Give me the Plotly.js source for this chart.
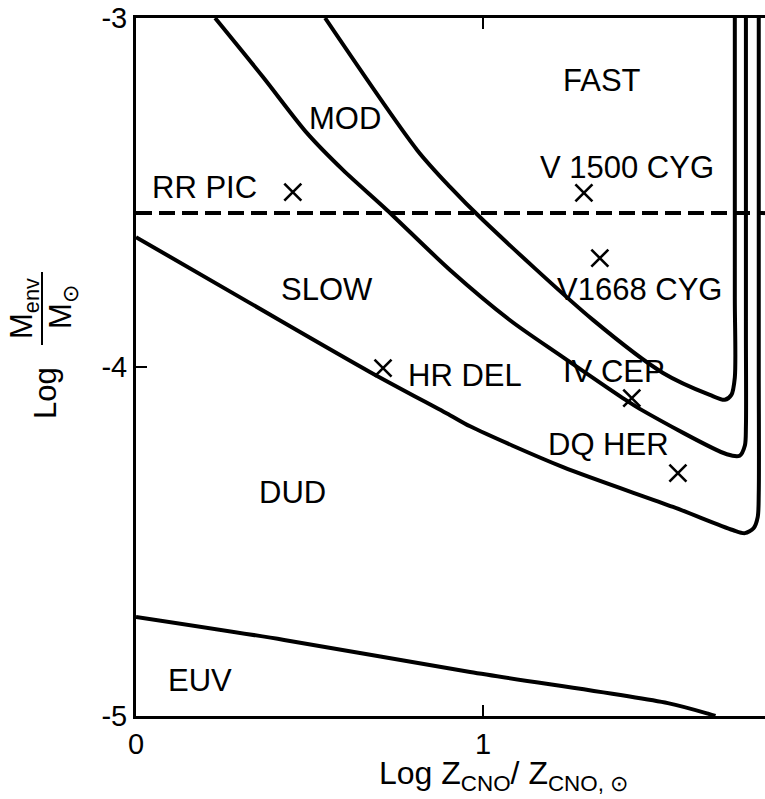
<!DOCTYPE html>
<html>
<head>
<meta charset="utf-8">
<script src="https://cdn.plot.ly/plotly-3.0.1.min.js"></script>
<style>html,body{margin:0;padding:0;background:#fff;}#chart{width:765px;height:799px;}</style>
</head>
<body>
<div id="chart"></div>
<script>
// Boundary FAST / MOD
const fastX = [0.545, 0.81, 0.905, 1.0, 1.317, 1.519, 1.654, 1.697, 1.716, 1.726, 1.726, 1.726];
const fastY = [-3.0, -3.378, -3.484, -3.579, -3.865, -4.017, -4.080, -4.094, -4.080, -4.03, -3.8, -3.0];
// Boundary MOD / SLOW
const modX = [0.228, 0.366, 0.493, 0.597, 0.723, 0.905, 1.078, 1.222, 1.403, 1.452, 1.703, 1.740, 1.755, 1.758, 1.758, 1.758];
const modY = [-3.0, -3.169, -3.330, -3.436, -3.550, -3.722, -3.866, -3.966, -4.089, -4.120, -4.250, -4.254, -4.225, -4.17, -3.9, -3.0];
// Boundary SLOW / DUD
const slowX = [0.0, 0.329, 0.674, 0.905, 0.963, 1.231, 1.548, 1.720, 1.755, 1.780, 1.792, 1.795, 1.795, 1.795];
const slowY = [-3.628, -3.817, -4.014, -4.138, -4.170, -4.287, -4.401, -4.467, -4.476, -4.462, -4.43, -4.36, -4.0, -3.0];
// Boundary DUD / EUV
const euvX = [0.0, 0.427, 0.963, 1.533, 1.651, 1.67];
const euvY = [-4.716, -4.782, -4.874, -4.963, -4.994, -5.0];
// Dashed divider
const dashX = [0.0, 1.813];
const dashY = [-3.559, -3.559];
// Observed novae (x marks)
const novaX = [0.452, 1.291, 1.337, 0.712, 1.429, 1.562];
const novaY = [-3.499, -3.501, -3.688, -4.003, -4.089, -4.304];
// Labels
const labelText = ["FAST", "MOD", "RR PIC", "V 1500 CYG", "V1668 CYG", "SLOW", "HR DEL", "IV CEP", "DQ HER", "DUD", "EUV"];
const labelX = [1.343, 0.602, 0.196, 1.415, 1.452, 0.550, 0.948, 1.378, 1.363, 0.450, 0.184];
const labelY = [-3.178, -3.287, -3.487, -3.427, -3.779, -3.779, -4.023, -4.014, -4.223, -4.361, -4.897];
// Ticks
const xTicks = [0, 1];
const xTickText = ["0", "1"];
const yTicks = [-5, -4, -3];
const yTickText = ["-5", "-4", "-3"];

const FONT = "Liberation Sans, Arial, sans-serif";
const curveLine = {color: "#000", width: 4, shape: "spline", smoothing: 0.8};

const traces = [
  {x: fastX, y: fastY, mode: "lines", line: curveLine, hoverinfo: "skip"},
  {x: modX, y: modY, mode: "lines", line: curveLine, hoverinfo: "skip"},
  {x: slowX, y: slowY, mode: "lines", line: curveLine, hoverinfo: "skip"},
  {x: euvX, y: euvY, mode: "lines", line: curveLine, hoverinfo: "skip"},
  {x: dashX, y: dashY, mode: "lines", line: {color: "#000", width: 4, dash: "16px,7px"}, hoverinfo: "skip"},
  {x: novaX, y: novaY, mode: "markers", marker: {symbol: "x-thin", size: 17, line: {color: "#000", width: 2.6}}, hoverinfo: "skip"}
];

const W = 629, H = 698, L = 136, B = 716;
function px(p) { return (p - L) / W; }
function py(p) { return (B - p) / H; }

const annotations = labelText.map((t, i) => ({
  x: labelX[i], y: labelY[i], xref: "x", yref: "y", text: t, showarrow: false,
  font: {family: FONT, size: 31, color: "#000"}, xanchor: "center", yanchor: "middle"
}));

// x axis title
annotations.push({
  x: px(503), y: py(775), xref: "paper", yref: "paper", showarrow: false,
  text: "Log Z<sub>CNO</sub>/ Z<sub>CNO, ⊙</sub>", font: {family: FONT, size: 32, color: "#000"},
  xanchor: "center", yanchor: "middle"
});
// y axis title pieces
annotations.push({
  x: px(46), y: py(393), xref: "paper", yref: "paper", showarrow: false, textangle: -90,
  text: "Log", font: {family: FONT, size: 31, color: "#000"}, xanchor: "center", yanchor: "middle"
});
annotations.push({
  x: px(24), y: py(309), xref: "paper", yref: "paper", showarrow: false, textangle: -90,
  text: "M<sub>env</sub>", font: {family: FONT, size: 31, color: "#000"}, xanchor: "center", yanchor: "middle"
});
annotations.push({
  x: px(63), y: py(307), xref: "paper", yref: "paper", showarrow: false, textangle: -90,
  text: "M<sub>⊙</sub>", font: {family: FONT, size: 31, color: "#000"}, xanchor: "center", yanchor: "middle"
});

const layout = {
  width: 765, height: 799,
  margin: {l: 136, r: 0, t: 18, b: 83},
  paper_bgcolor: "#fff", plot_bgcolor: "#fff",
  showlegend: false,
  xaxis: {
    range: [0, 1.813], tickvals: xTicks, ticktext: xTickText,
    showgrid: false, zeroline: false, showline: true, linecolor: "#000", linewidth: 3,
    mirror: "ticks", ticks: "inside", ticklen: 11, tickwidth: 2, tickcolor: "#000",
    tickfont: {family: FONT, size: 29, color: "#000"}, fixedrange: true
  },
  yaxis: {
    range: [-5, -3], tickvals: yTicks, ticktext: yTickText,
    showgrid: false, zeroline: false, showline: true, linecolor: "#000", linewidth: 3,
    ticks: "inside", ticklen: 11, tickwidth: 2, tickcolor: "#000",
    tickfont: {family: FONT, size: 29, color: "#000"}, fixedrange: true
  },
  annotations: annotations,
  shapes: [
    {type: "line", xref: "paper", yref: "paper", x0: px(42), x1: px(42), y0: py(272), y1: py(345),
     line: {color: "#000", width: 2}}
  ]
};

Plotly.newPlot("chart", traces, layout, {displayModeBar: false, staticPlot: true});
</script>
</body>
</html>
